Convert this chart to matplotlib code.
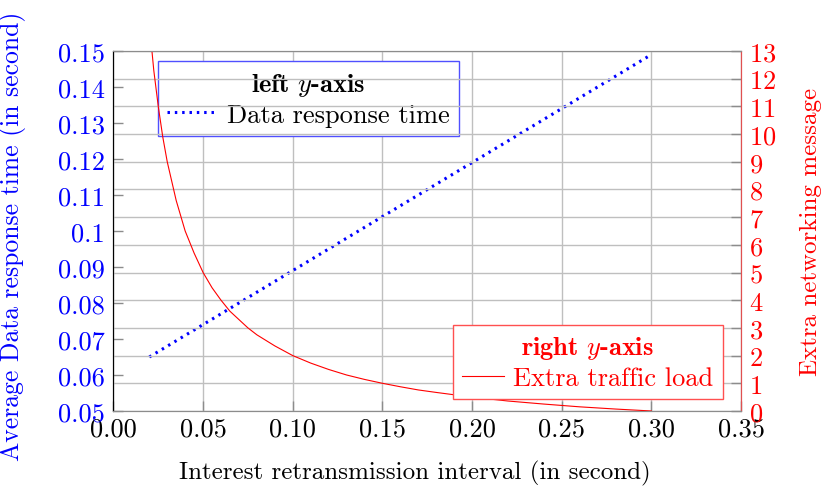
import matplotlib
matplotlib.use("Agg")
import matplotlib.pyplot as plt
from matplotlib.ticker import FuncFormatter

plt.rcParams['font.family'] = 'serif'
plt.rcParams['font.serif'] = ['cmr10']
plt.rcParams['mathtext.fontset'] = 'cm'
plt.rcParams['axes.formatter.use_mathtext'] = True
plt.rcParams['font.size'] = 18

# data
resp_x = [0.02, 0.05, 0.10, 0.15, 0.20, 0.25, 0.30]
resp_y = [0.065, 0.074, 0.089, 0.104, 0.119, 0.134, 0.149]

traffic_x = [0.020, 0.0225, 0.025, 0.0275, 0.030, 0.035, 0.040, 0.045, 0.050, 0.055,
             0.060, 0.065, 0.070, 0.075, 0.080, 0.090, 0.100, 0.110, 0.120, 0.130,
             0.140, 0.150, 0.160, 0.170, 0.180, 0.200, 0.220, 0.240, 0.260, 0.280, 0.300]
traffic_y = [14.0, 12.3, 11.0, 9.9, 9.0, 7.6, 6.5, 5.7, 5.0, 4.45,
             4.0, 3.6, 3.3, 3.0, 2.75, 2.35, 2.0, 1.73, 1.5, 1.3,
             1.14, 1.0, 0.875, 0.76, 0.67, 0.5, 0.36, 0.25, 0.15, 0.07, 0.0]

x_ticks = [0.00, 0.05, 0.10, 0.15, 0.20, 0.25, 0.30, 0.35]
left_ticks = [0.05, 0.06, 0.07, 0.08, 0.09, 0.10, 0.11, 0.12, 0.13, 0.14, 0.15]
right_ticks = list(range(0, 14))

grid_col = '#bfbfbf'
tick_col = '#8c8c8c'

fig = plt.figure(figsize=(8.22, 4.89), dpi=100)
ax = fig.add_axes([0.138, 0.1575, 0.7635, 0.7362])
ax2 = ax.twinx()

# left axis: response time
ax.plot(resp_x, resp_y, color='blue', lw=2.2, linestyle=(0, (0.8, 1.6)),
        label='Data response time')
ax.set_xlim(0, 0.35)
ax.set_ylim(0.05, 0.15)
ax.set_xticks(x_ticks)
ax.set_yticks(left_ticks)
ax.xaxis.set_major_formatter(FuncFormatter(lambda v, p: '%.2f' % v))
ax.yaxis.set_major_formatter(FuncFormatter(lambda v, p: '%g' % round(v, 2)))
ax.tick_params(axis='y', colors='blue', direction='in', length=7, width=1, pad=6, labelsize=19)
ax.tick_params(axis='y', color=tick_col)
ax.tick_params(axis='x', direction='in', length=7, width=1, color=tick_col, pad=4, labelsize=19)
ax.grid(axis='x', color=grid_col, lw=1)
ax.set_axisbelow(True)
ax.set_xlabel('Interest retransmission interval (in second)')
ax.xaxis.set_label_coords(0.48, -0.135)
ax.set_ylabel('Average Data response time (in second)', color='blue', fontsize=18.5)
ax.yaxis.set_label_coords(-0.14, 0.489)

leg1 = ax.legend(loc='upper left', bbox_to_anchor=(0.071, 0.971), fancybox=False,
                 framealpha=1, edgecolor='#5050ff', handlelength=1.9, fontsize=19,
                 borderpad=0.35, labelspacing=0.2, handletextpad=0.35, borderaxespad=0,
                 title='left $y$-axis', title_fontproperties={'family': 'cmb10', 'size': 19})
leg1.get_frame().set_linewidth(1.0)

# right axis: extra traffic
ax2.plot(traffic_x, traffic_y, color='red', lw=0.8, label='Extra traffic load')
ax2.set_ylim(0, 13)
ax2.set_yticks(right_ticks)
ax2.tick_params(axis='y', colors='red', direction='in', length=7, width=1, pad=6, labelsize=19)
ax2.tick_params(axis='y', color=tick_col)
ax2.grid(axis='y', color=grid_col, lw=1)
ax2.set_ylabel('Extra networking message', color='red')
ax2.yaxis.set_label_coords(1.093, 0.5)

leg2 = ax2.legend(loc='lower right', bbox_to_anchor=(0.971, 0.033), fancybox=False,
                  framealpha=1, edgecolor='#ff5050', handlelength=1.6, fontsize=19,
                  borderpad=0.35, labelspacing=0.2, handletextpad=0.35, borderaxespad=0,
                  title='right $y$-axis', title_fontproperties={'family': 'cmb10', 'size': 19})
leg2.get_frame().set_linewidth(1.0)
leg2.get_title().set_color('red')
for t in leg2.get_texts():
    t.set_color('red')

for a in (ax, ax2):
    a.spines['top'].set_color(tick_col)
    a.spines['bottom'].set_color(tick_col)
    a.spines['left'].set_color('black')
    a.spines['right'].set_color('#e05050')

fig.savefig('out.png', dpi=100)
